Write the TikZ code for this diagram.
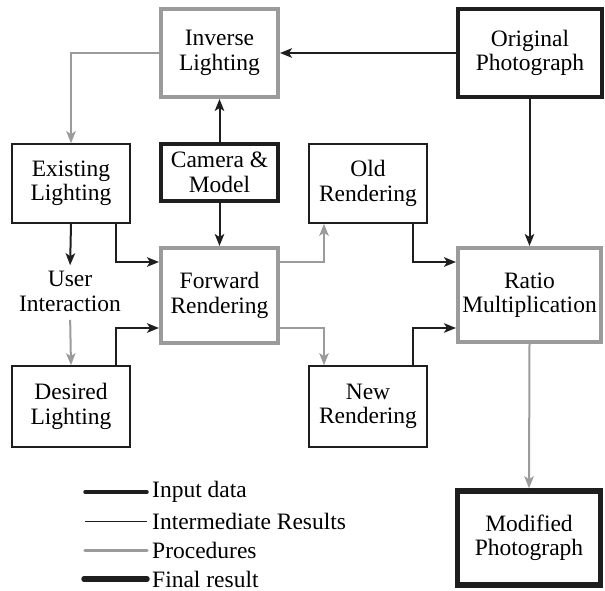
\documentclass[tikz,border=0pt]{standalone}
\usepackage{fontspec}
\setmainfont{Liberation Serif}
\usetikzlibrary{arrows.meta}
\definecolor{procgray}{RGB}{155,155,155}
\definecolor{ink}{RGB}{30,30,30}
\begin{document}
\begin{tikzpicture}[x=1pt,y=-1pt,
  every node/.style={font=\fontsize{23.5}{24.5}\selectfont, align=center, inner sep=0pt},
  interbox/.style={draw=ink, line width=1.6pt, fill=white},
  procbox/.style={draw=procgray, line width=4pt, fill=white},
  inputbox/.style={draw=ink, line width=4pt, fill=white},
  finalbox/.style={draw=ink, line width=5.5pt, fill=white},
  blk/.style={draw=ink, line width=2pt, -{Stealth[length=12pt,width=9.5pt,inset=3pt]}},
  gry/.style={draw=procgray, line width=2pt, -{Stealth[length=12pt,width=9.5pt,inset=3pt]}},
]
\useasboundingbox (0,0) rectangle (605,591);
% boxes
\node[procbox, minimum width=117pt, minimum height=88pt] (inv) at (219.5,53) {Inverse\\Lighting};
\node[inputbox, minimum width=144pt, minimum height=88pt] (orig) at (530,53) {Original\\Photograph};
\node[interbox, minimum width=118pt, minimum height=79pt] (exist) at (71,183.5) {Existing\\Lighting};
\node[inputbox, minimum width=117pt, minimum height=57pt] (cam) at (219.5,172.5) {Camera \&\\Model};
\node[interbox, minimum width=118pt, minimum height=79pt] (old) at (368,183.5) {Old\\Rendering};
\node[procbox, minimum width=117pt, minimum height=95pt] (fwd) at (219.5,295.5) {Forward\\Rendering};
\node[procbox, minimum width=143pt, minimum height=94pt] (ratio) at (529.5,295) {Ratio\\Multiplication};
\node (user) at (70,291.5) {User\\Interaction};
\node[interbox, minimum width=118pt, minimum height=81pt] (des) at (71,406.5) {Desired\\Lighting};
\node[interbox, minimum width=118pt, minimum height=81pt] (new) at (368,406.5) {New\\Rendering};
\node[finalbox, minimum width=143pt, minimum height=94pt] (mod) at (529,538) {Modified\\Photograph};
% connectors
\draw[blk] (orig.west) -- (inv.east);
\draw[gry] (inv.west) -| (exist.north);
\draw[blk] (cam.north) -- (inv.south);
\draw[blk] (cam.south) -- (fwd.north);
\draw[blk, shorten >=6pt] (exist.south) -- (user.north);
\draw[gry, shorten <=8pt] (user.south) -- (des.north);
\draw[blk] (exist.south -| 116,0) |- (fwd.west |- 0,262);
\draw[blk] (des.north -| 116,0) |- (fwd.west |- 0,328);
\draw[gry] (fwd.east |- 0,262) -| (old.south -| 324,0);
\draw[gry] (fwd.east |- 0,328) -| (new.north -| 324,0);
\draw[blk] (old.south -| 413,0) |- (ratio.west |- 0,262);
\draw[blk] (new.north -| 413,0) |- (ratio.west |- 0,328);
\draw[blk] (orig.south -| ratio.north) -- (ratio.north);
\draw[gry] (ratio.south) -- (mod.north);
% legend
\coordinate (l1a) at (85,492); \coordinate (l1b) at (147,492);
\coordinate (l2a) at (85,521.5); \coordinate (l2b) at (147,521.5);
\coordinate (l3a) at (85,550.5); \coordinate (l3b) at (147,550.5);
\coordinate (l4a) at (84,579); \coordinate (l4b) at (147,579);
\draw[ink, line width=3.5pt, line cap=round] (l1a) -- (l1b);
\draw[ink, line width=1.6pt] (l2a) -- (l2b);
\draw[procgray, line width=3.5pt, line cap=round] (l3a) -- (l3b);
\draw[ink, line width=5.5pt, line cap=round] (l4a) -- (l4b);
\node[anchor=west] (t1) at (152,492) {Input data};
\node[anchor=west] (t2) at (152,521.5) {Intermediate Results};
\node[anchor=west] (t3) at (152,550.5) {Procedures};
\node[anchor=west] (t4) at (152,579) {Final result};
\end{tikzpicture}
\end{document}
